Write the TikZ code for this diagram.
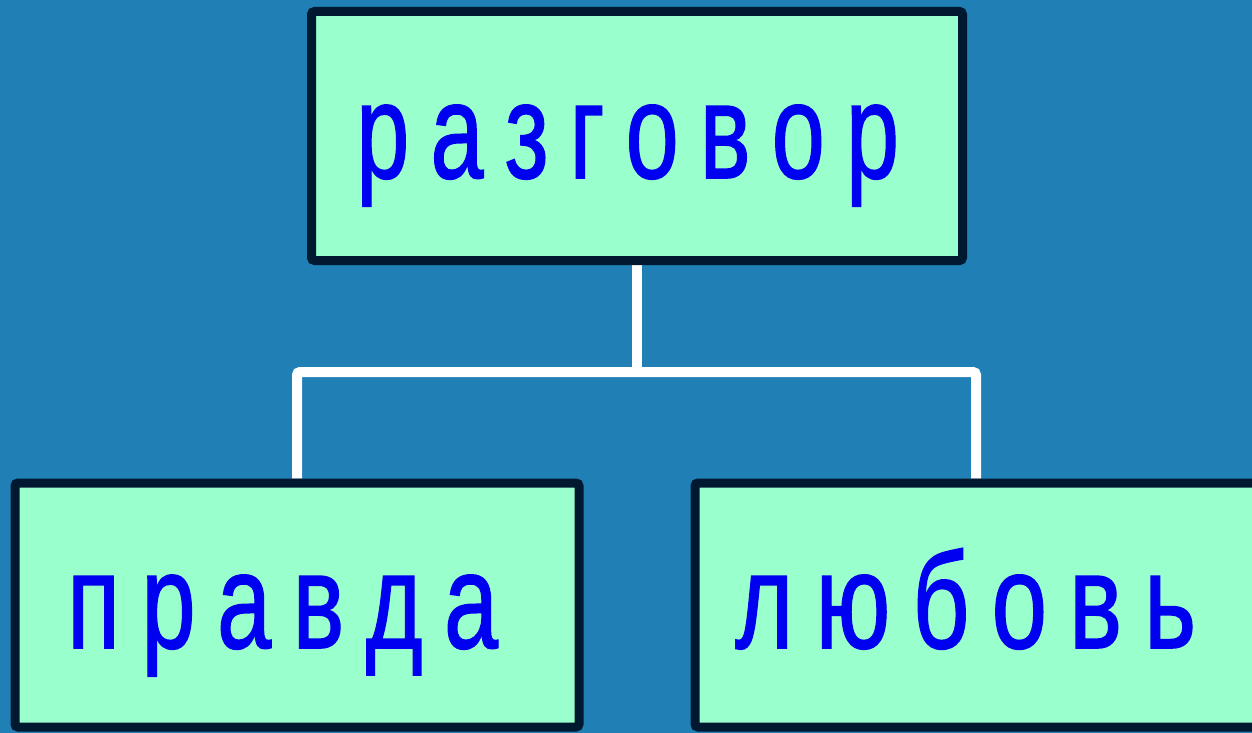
\documentclass[tikz,border=0pt]{standalone}
\usepackage{fontspec}
\usepackage{graphicx}
\setmainfont{Liberation Sans}
\newfontfamily\wordfont[FakeBold=1.2]{Liberation Sans}
\usetikzlibrary{backgrounds}
\definecolor{bgblue}{RGB}{32,128,182}
\definecolor{mint}{RGB}{153,255,204}
\definecolor{edge}{RGB}{0,24,48}
\definecolor{txtblue}{RGB}{0,0,240}
\tikzset{
  box/.style={draw=edge, fill=mint, line width=9pt, rounded corners=3pt, inner sep=0pt},
  conn/.style={draw=white, line width=10pt, rounded corners=3pt},
  word/.style={anchor=base west, inner sep=0pt, text=txtblue}
}
\newcommand{\bigtxt}[2]{\resizebox{#1}{\height}{\wordfont\fontsize{136}{140}\selectfont\spaceskip=0.22em\relax #2}}
\begin{document}
\begin{tikzpicture}[x=1pt,y=-1pt]
\begin{scope}[on background layer]
  \fill[bgblue] (0,0) rectangle (1252,733);
\end{scope}
\useasboundingbox (0,0) rectangle (1252,733);
\node[box, minimum width=651pt, minimum height=249pt] (top) at (637,136) {};
\node[box, minimum width=564pt, minimum height=244pt] (left) at (297,605) {};
\node[box, minimum width=562pt, minimum height=244pt] (right) at (976,605) {};
\coordinate (j) at (637,372);
\begin{scope}[on background layer]
  \draw[conn] (top.south) -- (j);
  \draw[conn] (left.north) |- (j) -| (right.north);
\end{scope}
\node[word] (t1) at (356,178) {\bigtxt{543pt}{р а з г о в о р}};
\node[word] (t2) at (67,648) {\bigtxt{431pt}{п р а в д а}};
\node[word] (t3) at (735,648) {\bigtxt{461pt}{л ю б о в ь}};
\end{tikzpicture}
\end{document}
